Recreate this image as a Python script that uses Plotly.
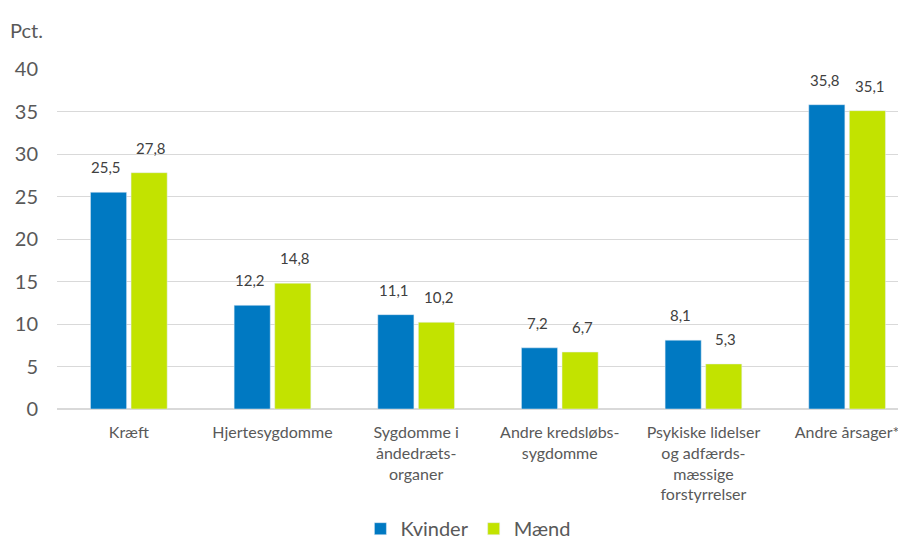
import plotly.graph_objects as go

categories = ["Kræft", "Hjertesygdomme", "Sygdomme i<br>åndedræts-<br>organer",
              "Andre kredsløbs-<br>sygdomme",
              "Psykiske lidelser<br>og adfærds-<br>mæssige<br>forstyrrelser",
              "Andre årsager*"]
kvinder = [25.5, 12.2, 11.1, 7.2, 8.1, 35.8]
maend = [27.8, 14.8, 10.2, 6.7, 5.3, 35.1]
y_ticks = [0, 5, 10, 15, 20, 25, 30, 35, 40]

FONT = "Lato"
GREY = "#595959"

fig = go.Figure()
fig.add_trace(go.Bar(x=categories, y=kvinder, name="Kvinder", marker_color="#0079C2"))
fig.add_trace(go.Bar(x=categories, y=maend, name="Mænd", marker_color="#C2E300"))

annotations = []
for series, shift in ((kvinder, -22.5), (maend, 22.5)):
    for cat, val in zip(categories, series):
        annotations.append(dict(x=cat, y=val, xref="x", yref="y", text=f"{val:.1f}".replace(".", ","),
                                showarrow=False, xshift=shift, yshift=14, yanchor="bottom",
                                font=dict(size=15, color="#404040", family=FONT)))
annotations.append(dict(text="Pct.", xref="paper", yref="paper", x=-0.058, y=1.115,
                        xanchor="left", yanchor="middle", showarrow=False,
                        font=dict(size=20, color=GREY, family=FONT)))

fig.update_layout(
    width=898, height=534,
    margin=dict(l=49, r=0, t=61, b=133, autoexpand=False),
    paper_bgcolor="white", plot_bgcolor="white",
    separators=",.",
    barmode="group", bargap=0.435, bargroupgap=0.11,
    font=dict(family=FONT, color=GREY),
    showlegend=True,
    legend=dict(orientation="h", x=0.484, xanchor="center", y=-0.352, yanchor="middle",
                font=dict(size=20, color=GREY, family=FONT), itemwidth=30, traceorder="normal"),
    xaxis=dict(range=[-0.5, 5.41], showgrid=False, showline=False, ticks="", automargin=False,
               tickfont=dict(size=16, color=GREY, family=FONT), tickangle=0,
               ticklabelstandoff=12),
    yaxis=dict(range=[0, 40], tickvals=y_ticks, showgrid=True, gridcolor="#D9D9D9", gridwidth=1,
               zeroline=True, zerolinecolor="#D9D9D9", zerolinewidth=2, automargin=False,
               tickfont=dict(size=20, color=GREY, family=FONT), ticklabelstandoff=18),
    annotations=annotations,
)

fig.write_html("out.html")
